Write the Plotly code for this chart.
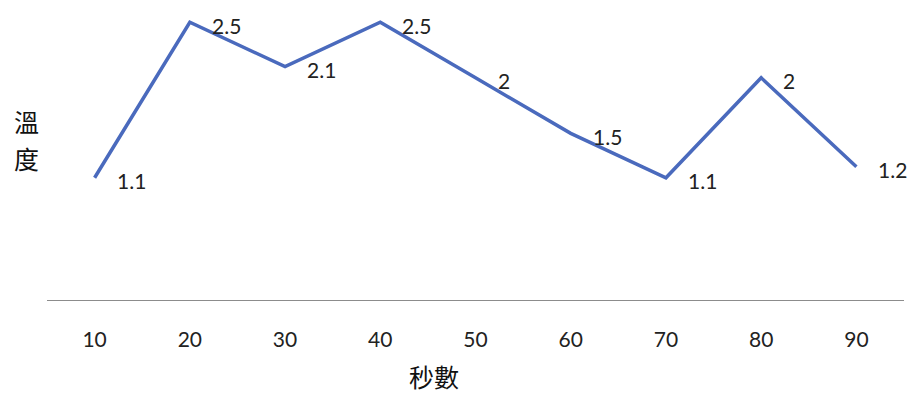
import plotly.graph_objects as go

seconds = ["10", "20", "30", "40", "50", "60", "70", "80", "90"]
temperature = [1.1, 2.5, 2.1, 2.5, 2, 1.5, 1.1, 2, 1.2]
x_title = "秒數"
y_title = "溫度"

LINE_COLOR = "#4a6abd"
TEXT_COLOR = "#222222"
NUM_FONT = "Lato, 'Open Sans', sans-serif"
CJK_FONT = "'Noto Sans CJK TC', sans-serif"

fig = go.Figure()
fig.add_trace(go.Scatter(
    x=seconds, y=temperature, mode="lines",
    line=dict(color=LINE_COLOR, width=3.5),
    hoverinfo="skip", showlegend=False,
))

# value labels to the right of each point (category index positions)
for i, v in enumerate(temperature):
    fig.add_annotation(
        x=i, y=v, text=str(v), showarrow=False,
        xanchor="left", yanchor="middle", xshift=20, yshift=-3,
        font=dict(family=NUM_FONT, size=21, color=TEXT_COLOR),
    )

# vertical y-axis title, one character per line
for ch, ypos in zip(y_title, [0.597, 0.473]):
    fig.add_annotation(
        xref="paper", yref="paper", x=-0.024, y=ypos,
        text=ch, showarrow=False,
        xanchor="center", yanchor="middle",
        font=dict(family=CJK_FONT, size=25, color="#111111"),
    )

# x-axis title below the tick labels
fig.add_annotation(
    xref="paper", yref="paper", x=0.452, y=-0.253,
    text=x_title, showarrow=False,
    xanchor="center", yanchor="middle",
    font=dict(family=CJK_FONT, size=25, color="#111111"),
)

fig.update_layout(
    width=915, height=396,
    margin=dict(l=47, r=11, t=0, b=96),
    paper_bgcolor="white", plot_bgcolor="white",
    xaxis=dict(
        type="category", range=[-0.5, 8.5],
        showgrid=False, zeroline=False,
        showline=True, linecolor="#8c8c8c", linewidth=1.2,
        ticks="", ticklabelstandoff=21,
        tickfont=dict(family=NUM_FONT, size=21, color=TEXT_COLOR),
    ),
    yaxis=dict(
        range=[0, 2.7], showgrid=False, zeroline=False,
        showticklabels=False, showline=False, ticks="",
    ),
)

fig.write_html("out.html")
